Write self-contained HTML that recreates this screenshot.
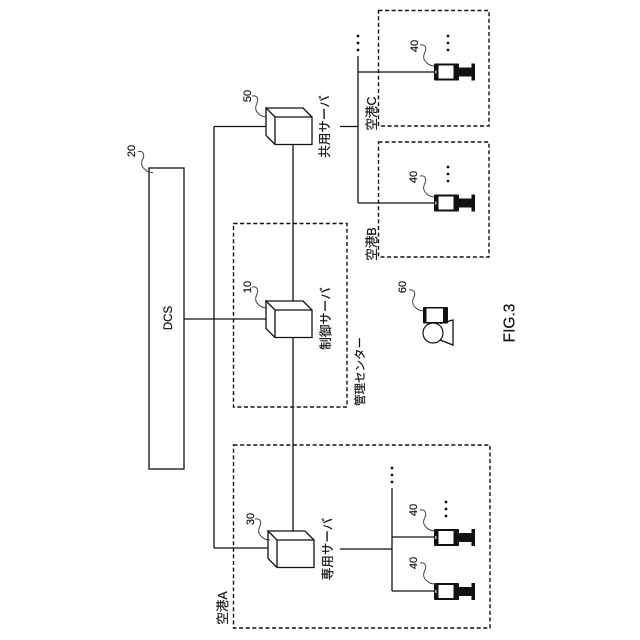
<!DOCTYPE html>
<html><head><meta charset="utf-8"><style>
html,body{margin:0;padding:0;background:#fff}
svg{display:block}
text{font-family:"Liberation Sans","Noto Sans CJK JP",sans-serif;fill:#111;stroke:#111;stroke-width:.2;text-anchor:middle;dominant-baseline:central}
.l{stroke:#111;stroke-width:1.3;fill:none}
.d{stroke:#111;stroke-width:1.4;fill:none;stroke-dasharray:4 2.600}
.q{stroke:#333;stroke-width:.9;fill:none}
</style></head><body>
<svg width="640" height="640" viewBox="0 0 640 640" xmlns="http://www.w3.org/2000/svg">
<defs>
<g id="term">
<rect x="434" y="-8.500" width="25" height="17" fill="#111" rx="1"/>
<rect x="438.500" y="-6.500" width="15" height="13" fill="#fff"/>
<rect x="435" y="-1.500" width="1.500" height="3" fill="#bbb"/>
<rect x="458" y="-4.500" width="14" height="9" fill="#111"/>
<rect x="471.500" y="-8.500" width="3.500" height="17" fill="#111"/>
</g>
<g id="srv">
<path class="l" d="M0 0L9 9H46V36.500H9L0 27.500ZM0 0H37L46 9M9 9V36.500"/>
</g>
<g id="dots">
<circle cx="0" cy="0" r="1.400" fill="#111"/><circle cx="0" cy="7" r="1.400" fill="#111"/><circle cx="0" cy="14" r="1.400" fill="#111"/>
</g>
<path id="sq" class="q" d="M0 0C5 -1 7 3 5 7C3 11 3 15 7 18C9 20 12 21 15 21"/>
</defs>

<!-- zones -->
<rect class="d" x="378.500" y="10.500" width="110.500" height="115.500"/>
<rect class="d" x="378.500" y="142" width="110.500" height="115"/>
<rect class="d" x="233.500" y="223.500" width="113.500" height="183.500"/>
<rect class="d" x="233.500" y="445" width="256.500" height="183"/>

<!-- DCS -->
<rect class="l" x="149" y="168" width="35" height="301"/>
<text transform="translate(169 318) rotate(-90)" font-size="11.500">DCS</text>

<!-- connectors -->
<path class="l" d="M184 319H266M214 126.500V548M214 126.500H266M214 548H268M293 145V301M293 338V531"/>
<path class="l" d="M340 126.500H358M358 56V203M358 72H435M358 203H435"/>
<path class="l" d="M340 549H392M392 488V591M392 537H435M392 591H435"/>

<!-- servers -->
<use href="#srv" x="266" y="108"/>
<use href="#srv" x="266" y="301"/>
<use href="#srv" x="268" y="531"/>

<!-- terminals -->
<use href="#term" x="0" y="72"/>
<use href="#term" x="0" y="203"/>
<use href="#term" x="0" y="537.500"/>
<use href="#term" x="0" y="591.500"/>

<!-- dots -->
<use href="#dots" x="358" y="36"/>
<use href="#dots" x="448" y="36"/>
<use href="#dots" x="448" y="167"/>
<use href="#dots" x="392" y="468"/>
<use href="#dots" x="446" y="502"/>

<!-- device 60 -->
<rect x="423" y="307" width="25" height="16.500" fill="#111" rx="1"/>
<rect x="426.500" y="308.500" width="16.500" height="13.500" fill="#fff"/>
<path class="l" d="M440 323.500L453 320V345L440 340"/>
<circle cx="433" cy="333" r="10" fill="#fff" stroke="#111" stroke-width="1.200"/>

<!-- squiggles -->
<use href="#sq" x="138" y="151.500"/>
<use href="#sq" x="252" y="96"/>
<use href="#sq" x="252" y="287"/>
<use href="#sq" x="255" y="519"/>
<use href="#sq" x="420" y="45"/>
<use href="#sq" x="420" y="176"/>
<use href="#sq" x="420" y="510"/>
<use href="#sq" x="420" y="563"/>
<use href="#sq" x="409" y="290"/>

<!-- numbers -->
<g font-size="11">
<text transform="translate(132 151) rotate(-90)">20</text>
<text transform="translate(248 96) rotate(-90)">50</text>
<text transform="translate(248 287) rotate(-90)">10</text>
<text transform="translate(251 519) rotate(-90)">30</text>
<text transform="translate(415 46) rotate(-90)">40</text>
<text transform="translate(414 177) rotate(-90)">40</text>
<text transform="translate(414 510) rotate(-90)">40</text>
<text transform="translate(414 563) rotate(-90)">40</text>
<text transform="translate(403 287) rotate(-90)">60</text>
</g>

<!-- labels -->
<g font-size="12.500">
<text transform="translate(325 126.500) rotate(-90)">共用サーバ</text>
<text transform="translate(326 318.500) rotate(-90)">制御サーバ</text>
<text transform="translate(328 549) rotate(-90)">専用サーバ</text>
<text transform="translate(361 371.500) rotate(-90)" font-size="11.500">管理センター</text>
<text transform="translate(223 608) rotate(-90)">空港A</text>
<text transform="translate(372 244) rotate(-90)">空港B</text>
<text transform="translate(372 113.500) rotate(-90)">空港C</text>
</g>
<text transform="translate(510 323) rotate(-90)" font-size="15.500">FIG.3</text>
</svg>
</body></html>
